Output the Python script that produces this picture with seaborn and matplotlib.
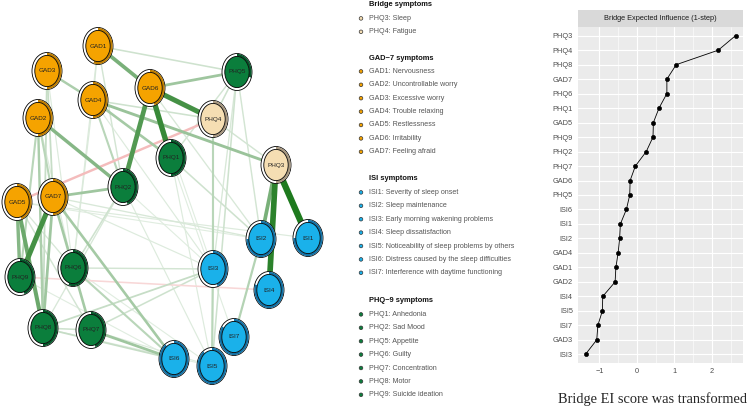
"""
Symptom network + bridge expected influence (GAD-7 / PHQ-9 / ISI)
"""

import numpy as np
import pandas as pd
import matplotlib
matplotlib.use("Agg")
import matplotlib.pyplot as plt
from matplotlib.patches import Ellipse, Polygon
import seaborn as sns

sns.set_style("white")
plt.rcParams['font.family'] = ['Liberation Sans', 'DejaVu Sans']

# ---- network nodes: layout (canvas pixels), group, predictability ----
node_names = ['GAD1', 'GAD2', 'GAD3', 'GAD4', 'GAD5', 'GAD6', 'GAD7',
              'PHQ1', 'PHQ2', 'PHQ3', 'PHQ4', 'PHQ5', 'PHQ6', 'PHQ7', 'PHQ8', 'PHQ9',
              'ISI1', 'ISI2', 'ISI3', 'ISI4', 'ISI5', 'ISI6', 'ISI7']
node_x = [98, 38, 47, 93, 17, 150, 53,
          171, 123, 276, 213, 237, 73, 91, 43, 20,
          308, 261, 213, 269, 212, 174, 234]
node_y = [46, 118, 71, 100, 202, 88, 197,
          158, 187, 165, 119, 72, 268, 330, 328, 277,
          238, 239, 269, 290, 366, 359, 337]
node_group = ['gad'] * 7 + ['phq', 'phq', 'bridge', 'bridge', 'phq', 'phq', 'phq', 'phq', 'phq'] + ['isi'] * 7
node_pred = [0.55, 0.5, 0.5, 0.5, 0.45, 0.45, 0.5,
             0.5, 0.45, 0.5, 0.5, 0.3, 0.55, 0.45, 0.5, 0.45,
             0.75, 0.75, 0.45, 0.8, 0.9, 0.9, 0.85]

# ---- network edges (negative = red) ----
edge_from = ['PHQ3', 'PHQ3', 'PHQ3', 'GAD6', 'GAD6', 'GAD6', 'GAD1', 'GAD7', 'GAD5', 'GAD5',
             'GAD2', 'GAD7', 'GAD4', 'GAD6', 'GAD4', 'GAD3', 'GAD7', 'PHQ7', 'PHQ6', 'GAD7',
             'GAD7', 'GAD2', 'GAD2', 'GAD3', 'PHQ4', 'PHQ5', 'ISI3', 'ISI2', 'ISI3', 'GAD1',
             'GAD1', 'GAD4', 'GAD4', 'PHQ5', 'PHQ5', 'PHQ4', 'GAD6', 'GAD5', 'GAD7', 'PHQ8',
             'PHQ2', 'PHQ1', 'PHQ6', 'PHQ7', 'PHQ8', 'PHQ2', 'PHQ5', 'GAD2', 'GAD3', 'PHQ1',
             'PHQ5', 'PHQ4', 'GAD5', 'PHQ9',
             'GAD1', 'GAD1', 'GAD3', 'PHQ2', 'GAD4', 'GAD6', 'PHQ1', 'PHQ6', 'PHQ7', 'PHQ8',
             'GAD5', 'GAD7', 'PHQ9', 'GAD5', 'GAD5', 'GAD2', 'GAD4', 'PHQ2']
edge_to = ['ISI1', 'ISI4', 'ISI2', 'PHQ1', 'PHQ2', 'PHQ4', 'GAD6', 'PHQ9', 'PHQ8', 'PHQ9',
           'PHQ2', 'PHQ2', 'PHQ3', 'PHQ5', 'PHQ1', 'GAD4', 'ISI6', 'ISI6', 'ISI6', 'PHQ7',
           'PHQ8', 'PHQ8', 'PHQ9', 'PHQ8', 'ISI3', 'ISI5', 'ISI5', 'ISI7', 'PHQ8', 'PHQ5',
           'PHQ2', 'PHQ4', 'PHQ2', 'PHQ4', 'PHQ1', 'PHQ3', 'ISI2', 'ISI1', 'ISI2', 'ISI6',
           'ISI5', 'ISI5', 'ISI3', 'ISI3', 'PHQ7', 'PHQ6', 'ISI3', 'GAD7', 'GAD7', 'ISI2',
           'ISI2', 'ISI5', 'PHQ4', 'ISI4',
           'GAD4', 'PHQ6', 'PHQ6', 'ISI3', 'ISI3', 'ISI3', 'ISI7', 'ISI5', 'ISI5', 'ISI5',
           'ISI2', 'ISI3', 'ISI6', 'PHQ6', 'PHQ7', 'PHQ6', 'PHQ6', 'PHQ8']
edge_weight = [0.85, 0.75, 0.45, 0.7, 0.6, 0.65, 0.45, 0.65, 0.5, 0.4,
               0.4, 0.3, 0.32, 0.3, 0.28, 0.25, 0.28, 0.3, 0.2, 0.28,
               0.3, 0.25, 0.2, 0.15, 0.2, 0.12, 0.2, 0.22, 0.15, 0.12,
               0.1, 0.12, 0.2, 0.12, 0.1, 0.1, 0.08, 0.06, 0.08, 0.15,
               0.06, 0.06, 0.1, 0.12, 0.12, 0.12, 0.08, 0.2, 0.15, 0.12,
               0.1, 0.08, -0.25, -0.12,
               0.08, 0.06, 0.06, 0.05, 0.06, 0.05, 0.05, 0.05, 0.06, 0.05,
               0.05, 0.06, 0.05, 0.08, 0.1, 0.06, 0.07, 0.08]

# ---- bridge expected influence (1-step), z-scores ----
bei_items = ['PHQ3', 'PHQ4', 'PHQ8', 'GAD7', 'PHQ6', 'PHQ1', 'GAD5', 'PHQ9', 'PHQ2',
             'PHQ7', 'GAD6', 'PHQ5', 'ISI6', 'ISI1', 'ISI2', 'GAD4', 'GAD1', 'GAD2',
             'ISI4', 'ISI5', 'ISI7', 'GAD3', 'ISI3']
bei_values = [2.63, 2.17, 1.05, 0.80, 0.80, 0.59, 0.44, 0.43, 0.25,
              -0.04, -0.18, -0.19, -0.28, -0.44, -0.46, -0.50, -0.56, -0.58,
              -0.91, -0.92, -1.04, -1.07, -1.37]

# ---- legend text ----
legend_titles = ['Bridge symptoms', 'GAD\u22127 symptoms', 'ISI symptoms', 'PHQ\u22129 symptoms']
legend_groups = ['bridge', 'gad', 'isi', 'phq']
bridge_labels = ['PHQ3: Sleep', 'PHQ4: Fatigue']
gad_labels = ['GAD1: Nervousness', 'GAD2: Uncontrollable worry', 'GAD3: Excessive worry',
              'GAD4: Trouble relaxing', 'GAD5: Restlessness', 'GAD6: Irritability',
              'GAD7: Feeling afraid']
isi_labels = ['ISI1: Severity of sleep onset', 'ISI2: Sleep maintenance',
              'ISI3: Early morning wakening problems', 'ISI4: Sleep dissatisfaction',
              'ISI5: Noticeability of sleep problems by others',
              'ISI6: Distress caused by the sleep difficulties',
              'ISI7: Interference with daytime functioning']
phq_labels = ['PHQ1: Anhedonia', 'PHQ2: Sad Mood', 'PHQ5: Appetite', 'PHQ6: Guilty',
              'PHQ7: Concentration', 'PHQ8: Motor', 'PHQ9: Suicide ideation']

FILL = {'gad': '#F5A300', 'phq': '#0B7E3C', 'isi': '#1AB1EA', 'bridge': '#F5DEB3'}
ARC = {'gad': '#C07F00', 'phq': '#06572A', 'isi': '#1272A6', 'bridge': '#A89880'}


def mix(hex_color, a):
    """Blend a colour with white"""
    rgb = np.array(matplotlib.colors.to_rgb(hex_color))
    return tuple(1 - a * (1 - rgb))


def ring_arc(cx, cy, rx_out, ry_out, rx_in, ry_in, frac):
    """Polygon for a ring segment running clockwise from the top"""
    t = np.linspace(0, 2 * np.pi * frac, 80)
    outer = np.column_stack([cx + rx_out * np.sin(t), cy - ry_out * np.cos(t)])
    inner = np.column_stack([cx + rx_in * np.sin(t[::-1]), cy - ry_in * np.cos(t[::-1])])
    return np.vstack([outer, inner])


def draw_network(ax):
    pos = {n: (x, y) for n, x, y in zip(node_names, node_x, node_y)}
    order = np.argsort(np.abs(edge_weight))
    for i in order:
        w = edge_weight[i]
        a = min(1.0, 0.08 + 1.15 * abs(w))
        base = '#1E7A1E' if w > 0 else '#E04848'
        (x1, y1), (x2, y2) = pos[edge_from[i]], pos[edge_to[i]]
        ax.plot([x1, x2], [y1, y2], color=mix(base, a), lw=(0.8 + 6.5 * abs(w)) * 0.72,
                solid_capstyle='butt', zorder=1 + abs(w))

    for n, x, y, g, p in zip(node_names, node_x, node_y, node_group, node_pred):
        ax.add_patch(Ellipse((x, y), 30, 37, facecolor='white', edgecolor='black', lw=0.6, zorder=5))
        ax.add_patch(Polygon(ring_arc(x, y, 14.6, 18.1, 12.2, 15.6, p), closed=True,
                             facecolor=ARC[g], edgecolor='none', zorder=6))
        ax.add_patch(Ellipse((x, y), 24.4, 31.2, facecolor=FILL[g], edgecolor='black', lw=0.6, zorder=7))
        ax.text(x, y, n, ha='center', va='center', fontsize=4.6, color='#222222', zorder=8)


def draw_legend(ax):
    groups = [bridge_labels, gad_labels, isi_labels, phq_labels]
    title_y = [5, 58, 179, 301]
    step = 13.4
    for title, g, labels, ty in zip(legend_titles, legend_groups, groups, title_y):
        ax.text(369, ty, title, ha='left', va='center', fontsize=5.4, fontweight='bold', color='#111111')
        for k, lab in enumerate(labels):
            yy = ty + step * (k + 1)
            ax.add_patch(Ellipse((361, yy), 3.6, 3.6, facecolor=FILL[g], edgecolor='#333333', lw=0.5))
            ax.text(369, yy, lab, ha='left', va='center', fontsize=5.1, color='#555555')


def draw_bei(fig):
    df = pd.DataFrame({'item': bei_items, 'value': bei_values})
    ax = fig.add_axes([578 / 752, 46 / 409, 165 / 752, 336 / 409])
    ax.set_facecolor('#EBEBEB')
    sns.pointplot(data=df, x='value', y='item', order=bei_items, color='black',
                  markers='o', markersize=3.0, linewidth=0.6, errorbar=None, ax=ax)
    ax.set_xlim(-1.57, 2.83)
    ax.set_ylim(len(bei_items) - 0.4, -0.6)
    ax.set_xticks([-1, 0, 1, 2])
    ax.set_xticks([-0.5, 0.5, 1.5, 2.5], minor=True)
    ax.set_axisbelow(True)
    ax.grid(True, which='major', color='white', lw=0.8)
    ax.xaxis.grid(True, which='minor', color='white', lw=0.4)
    ax.set_xlabel('')
    ax.set_ylabel('')
    for s in ax.spines.values():
        s.set_visible(False)
    ax.tick_params(which='major', length=2.2, width=0.5, color='#333333',
                   labelcolor='#4D4D4D', labelsize=5.3, pad=1.5)
    ax.tick_params(which='minor', length=0)

    strip = fig.add_axes([578 / 752, (409 - 27) / 409, 165 / 752, 17 / 409])
    strip.set_facecolor('#D9D9D9')
    strip.set_xticks([])
    strip.set_yticks([])
    for s in strip.spines.values():
        s.set_visible(False)
    strip.text(0.5, 0.5, 'Bridge Expected Influence (1-step)', ha='center', va='center',
               fontsize=5.3, color='#1A1A1A', transform=strip.transAxes)

    fig.text(653 / 752, 1 - 399 / 409, 'Bridge EI score was transformed',
             family='Liberation Serif', fontsize=10.4, ha='center', va='center')


def main():
    fig = plt.figure(figsize=(7.52, 4.09), dpi=100)
    fig.patch.set_facecolor('white')

    ax0 = fig.add_axes([0, 0, 1, 1])
    ax0.set_xlim(0, 752)
    ax0.set_ylim(409, 0)
    ax0.axis('off')

    draw_network(ax0)
    draw_legend(ax0)
    draw_bei(fig)

    fig.savefig('out.png', dpi=100, facecolor='white')


if __name__ == "__main__":
    main()
